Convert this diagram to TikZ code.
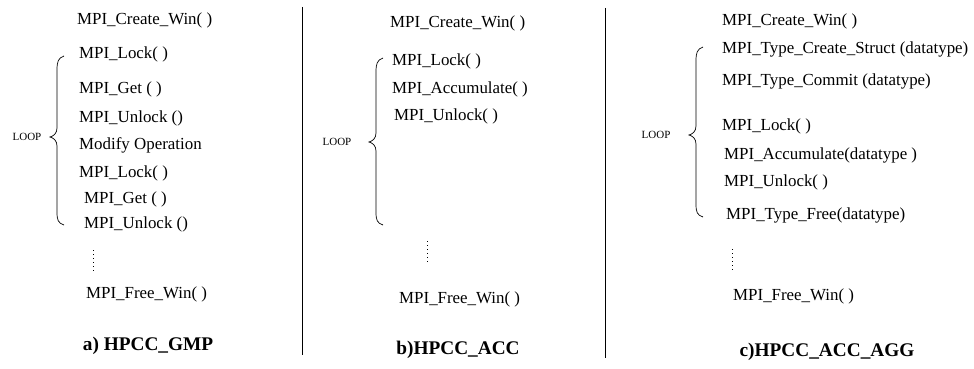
\documentclass[tikz,border=0pt]{standalone}
\usepackage{fontspec}
\setmainfont{Liberation Serif}
\begin{document}
\begin{tikzpicture}[x=1pt,y=-1pt,
  txt/.style={anchor=west,inner sep=0pt,yshift=-1pt,font=\fontsize{16.9}{19}\selectfont},
  loopl/.style={anchor=center,inner sep=0pt,font=\fontsize{11}{13}\selectfont},
  captionl/.style={anchor=center,inner sep=0pt,font=\fontsize{19.3}{22}\selectfont\bfseries},
  sep/.style={line width=0.9pt},
  vdots/.style={line width=0.8pt,dash pattern=on 0.8pt off 3.2pt},
  bracel/.style={line width=0.7pt}]
\useasboundingbox (0,0) rectangle (974,369);

% ---------- panel a ----------
\node[txt] (a0) at (77,19) {MPI\_Create\_Win( )};
\node[txt] (a1) at (79,53) {MPI\_Lock( )};
\node[txt] (a2) at (79,88) {MPI\_Get ( )};
\node[txt] (a3) at (79,117) {MPI\_Unlock ()};
\node[txt] (a4) at (79,144) {Modify Operation};
\node[txt] (a5) at (79,172) {MPI\_Lock( )};
\node[txt] (a6) at (84,198) {MPI\_Get ( )};
\node[txt] (a7) at (84,223) {MPI\_Unlock ()};
\node[txt] (a8) at (86,293) {MPI\_Free\_Win( )};
\node[loopl] (aL) at (27,137) {LOOP};
\node[captionl] (aC) at (148,346) {a) HPCC\_GMP};
\coordinate (ad1) at (93,250);
\coordinate (ad2) at (93,273);
\draw[vdots] (ad1) -- (ad2);
\coordinate (abt) at (64,56);
\coordinate (abm) at (50,137);
\coordinate (abb) at (64,225);
\draw[bracel] (abt) .. controls (58,58) and (57,62) .. (57,70)
  -- (57,128) .. controls (57,133) and (54,136) .. (abm)
  .. controls (54,138) and (57,141) .. (57,146)
  -- (57,212) .. controls (57,220) and (58,223) .. (abb);

\coordinate (s1t) at (302,7);
\coordinate (s1b) at (302,355);
\draw[sep] (s1t) -- (s1b);

% ---------- panel b ----------
\node[txt] (b0) at (390,22) {MPI\_Create\_Win( )};
\node[txt] (b1) at (392,60) {MPI\_Lock( )};
\node[txt] (b2) at (392,88) {MPI\_Accumulate( )};
\node[txt] (b3) at (394,115) {MPI\_Unlock( )};
\node[txt] (b8) at (399,298) {MPI\_Free\_Win( )};
\node[loopl] (bL) at (337,142) {LOOP};
\node[captionl] (bC) at (458,350) {b)HPCC\_ACC};
\coordinate (bd1) at (427,241);
\coordinate (bd2) at (427,263);
\draw[vdots] (bd1) -- (bd2);
\coordinate (bbt) at (383,58);
\coordinate (bbm) at (369,142);
\coordinate (bbb) at (383,225);
\draw[bracel] (bbt) .. controls (377,60) and (376,64) .. (376,72)
  -- (376,133) .. controls (376,138) and (373,141) .. (bbm)
  .. controls (373,143) and (376,146) .. (376,151)
  -- (376,212) .. controls (376,220) and (377,223) .. (bbb);

\coordinate (s2t) at (605,8);
\coordinate (s2b) at (605,358);
\draw[sep] (s2t) -- (s2b);

% ---------- panel c ----------
\node[txt] (c0) at (722,20) {MPI\_Create\_Win( )};
\node[txt] (c1) at (722,48) {MPI\_Type\_Create\_Struct (datatype)};
\node[txt] (c2) at (722,80) {MPI\_Type\_Commit (datatype)};
\node[txt] (c3) at (722,125) {MPI\_Lock( )};
\node[txt] (c4) at (724,154) {MPI\_Accumulate(datatype )};
\node[txt] (c5) at (724,181) {MPI\_Unlock( )};
\node[txt] (c6) at (726,214) {MPI\_Type\_Free(datatype)};
\node[txt] (c8) at (733,295) {MPI\_Free\_Win( )};
\node[loopl] (cL) at (656,135) {LOOP};
\node[captionl] (cC) at (827,352) {c)HPCC\_ACC\_AGG};
\coordinate (cd1) at (732,249);
\coordinate (cd2) at (732,271);
\draw[vdots] (cd1) -- (cd2);
\coordinate (cbt) at (703,47);
\coordinate (cbm) at (689,135);
\coordinate (cbb) at (703,217);
\draw[bracel] (cbt) .. controls (697,49) and (696,53) .. (696,61)
  -- (696,126) .. controls (696,131) and (693,134) .. (cbm)
  .. controls (693,136) and (696,139) .. (696,144)
  -- (696,204) .. controls (696,212) and (697,215) .. (cbb);
\end{tikzpicture}
\end{document}
